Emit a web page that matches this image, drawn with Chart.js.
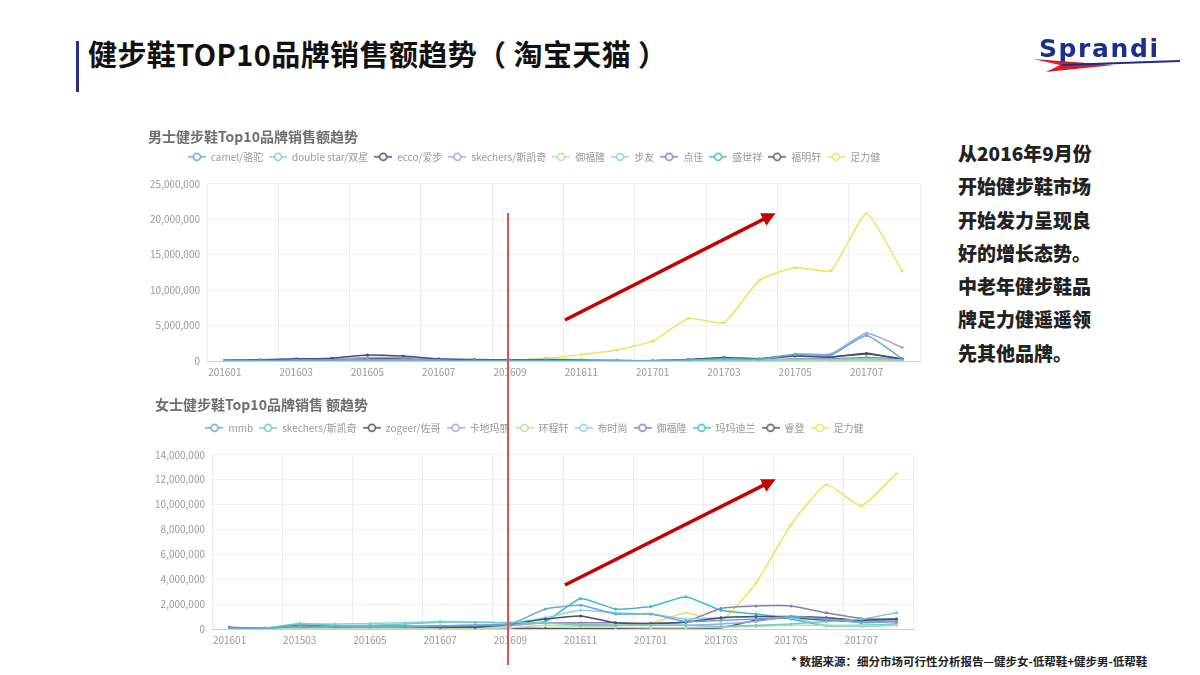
<!DOCTYPE html>
<html>
<head>
<meta charset="utf-8">
<script src="https://cdn.jsdelivr.net/npm/chart.js@4.4.1/dist/chart.umd.min.js"></script>
<style>
  body { margin: 0; background: #fff; }
  #page { position: relative; width: 1200px; height: 675px; overflow: hidden; font-family: "Noto Sans CJK SC", "Noto Sans", sans-serif; }
  .abs { position: absolute; }
  #bar { left: 76px; top: 41px; width: 3px; height: 51px; background: #2b2f86; }
  #title { left: 88px; top: 32px; font-size: 29px; font-weight: 700; color: #111; white-space: nowrap; letter-spacing: 0.4px; }
  #note { left: 958px; top: 136px; font-size: 19px; font-weight: 900; color: #222; line-height: 33.3px; }
  #src { left: 791px; top: 653px; font-size: 11.5px; font-weight: 700; color: #222; white-space: nowrap; }
  canvas { position: absolute; }
</style>
</head>
<body>
<div id="page">
  <div id="bar" class="abs"></div>
  <div id="title" class="abs">健步鞋TOP10品牌销售额趋势（ 淘宝天猫 ）</div>
  <canvas id="menChart" width="790" height="260" style="left:140px;top:124px"></canvas>
  <canvas id="womenChart" width="790" height="260" style="left:147px;top:392px"></canvas>
  <div id="note" class="abs">从2016年9月份<br>开始健步鞋市场<br>开始发力呈现良<br>好的增长态势。<br>中老年健步鞋品<br>牌足力健遥遥领<br>先其他品牌。</div>
  <div id="src" class="abs">* 数据来源：细分市场可行性分析报告—健步女-低帮鞋+健步男-低帮鞋</div>
  <svg class="abs" style="left:0;top:0" width="1200" height="675">
    <defs>
      <marker id="head" markerWidth="4" markerHeight="4" refX="2.2" refY="2" orient="auto" markerUnits="strokeWidth">
        <path d="M0,0 L4,2 L0,4 z" fill="#c40000"/>
      </marker>
    </defs>
    <!-- logo -->
    <text x="1039" y="57" font-family="DejaVu Sans" font-weight="bold" font-size="25" fill="#1d2f8c" letter-spacing="1.6">Sprandi</text>
    <polygon points="1033,59 1114,65 1046,72 1060,65" fill="#d4202a"/>
    <path d="M1062,65 L1180,61" stroke="#1d2f8c" stroke-width="2"/>
    <!-- marker line at 201609 -->
    <line x1="508" y1="213" x2="508" y2="665" stroke="#d9534f" stroke-width="2"/>
    <!-- trend arrows -->
    <line x1="565" y1="320" x2="770" y2="216" stroke="#c40000" stroke-width="3.5" marker-end="url(#head)"/>
    <line x1="565" y1="585" x2="770" y2="482" stroke="#c40000" stroke-width="3.5" marker-end="url(#head)"/>
  </svg>
</div>
<script>
// categories
const months = ['201601','201602','201603','201604','201605','201606','201607','201608','201609','201610',
                '201611','201612','201701','201702','201703','201704','201705','201706','201707','201708'];
const menTickLabels = months.slice();
const womenTickLabels = ['201601','201602','201503','201604','201605','201606','201607','201608','201609','201610',
                         '201611','201612','201701','201702','201703','201704','201705','201706','201707','201708'];

// men brands
const menBrands = ['camel/骆驼','double star/双星','ecco/爱步','skechers/斯凯奇','御福隆','步友','点佳','盛世祥','福明轩','足力健'];
const menColors = ['#6aa8dc','#7fd3c3','#4b4f6b','#a3a8dc','#b6dea0','#8bd3e3','#8b7fd0','#3fc0b8','#5a5a70','#e8e65a'];

const camelSales        = [50000, 60000, 100000, 120000, 150000, 150000, 100000, 60000, 50000, 50000, 50000, 50000, 50000, 150000, 300000, 250000, 900000, 800000, 3600000, 300000];
const doubleStarSales   = [20000, 20000, 30000, 30000, 50000, 50000, 30000, 20000, 20000, 30000, 30000, 20000, 20000, 50000, 100000, 100000, 200000, 200000, 300000, 150000];
const eccoSales         = [100000, 180000, 300000, 400000, 850000, 700000, 300000, 200000, 150000, 150000, 100000, 60000, 50000, 200000, 500000, 300000, 800000, 600000, 1000000, 300000];
const skechersMenSales  = [50000, 100000, 200000, 300000, 500000, 500000, 200000, 100000, 100000, 100000, 100000, 60000, 50000, 200000, 400000, 300000, 1000000, 1000000, 3900000, 1900000];
const yufulongMenSales  = [30000, 30000, 50000, 50000, 60000, 60000, 50000, 40000, 60000, 300000, 200000, 100000, 60000, 60000, 80000, 80000, 100000, 100000, 150000, 100000];
const buyouSales        = [20000, 20000, 30000, 30000, 40000, 40000, 30000, 30000, 30000, 40000, 50000, 40000, 40000, 50000, 100000, 100000, 150000, 150000, 200000, 100000];
const dianjiaSales      = [30000, 50000, 80000, 100000, 150000, 150000, 80000, 50000, 50000, 50000, 50000, 40000, 40000, 80000, 150000, 150000, 300000, 300000, 500000, 300000];
const shengshiSales     = [20000, 20000, 20000, 20000, 30000, 30000, 20000, 20000, 20000, 20000, 20000, 20000, 20000, 30000, 50000, 50000, 100000, 100000, 150000, 100000];
const fumingxuanSales   = [60000, 100000, 150000, 200000, 400000, 350000, 200000, 120000, 100000, 100000, 80000, 50000, 50000, 150000, 400000, 250000, 700000, 500000, 1100000, 250000];
const zulijianMenSales  = [80000, 80000, 90000, 90000, 100000, 100000, 90000, 90000, 100000, 380000, 900000, 1550000, 2800000, 6000000, 5400000, 11400000, 13200000, 12750000, 20850000, 12700000];
const menSeries = [camelSales, doubleStarSales, eccoSales, skechersMenSales, yufulongMenSales,
                   buyouSales, dianjiaSales, shengshiSales, fumingxuanSales, zulijianMenSales];
const menTicks = [0, 5000000, 10000000, 15000000, 20000000, 25000000];

// women brands
const womenBrands = ['mmb','skechers/斯凯奇','zogeer/佐哥','卡地玛丽','环程轩','布时尚','御福隆','玛玛迪兰','睿登','足力健'];
const womenColors = ['#6aa8dc','#6fd0c0','#4b4f6b','#a3a8dc','#b6dea0','#8bd3e3','#8a7fb0','#3cbcc8','#555566','#e8e65a'];

const mmbSales            = [100000, 50000, 250000, 200000, 200000, 200000, 250000, 300000, 400000, 1600000, 1900000, 1200000, 1200000, 600000, 700000, 800000, 1000000, 800000, 500000, 600000];
const skechersWomenSales  = [50000, 50000, 450000, 300000, 300000, 400000, 550000, 550000, 500000, 500000, 300000, 300000, 300000, 300000, 200000, 300000, 400000, 600000, 800000, 1300000];
const zogeerSales         = [150000, 50000, 300000, 200000, 250000, 200000, 150000, 150000, 400000, 800000, 1050000, 500000, 450000, 550000, 900000, 1000000, 1000000, 900000, 700000, 800000];
const kadimaliSales       = [50000, 50000, 200000, 150000, 150000, 150000, 150000, 150000, 300000, 500000, 400000, 300000, 300000, 300000, 400000, 600000, 1000000, 900000, 600000, 700000];
const huanchengSales      = [20000, 20000, 50000, 50000, 50000, 50000, 50000, 50000, 100000, 300000, 200000, 150000, 100000, 100000, 150000, 200000, 300000, 300000, 300000, 300000];
const bushishangSales     = [100000, 100000, 400000, 400000, 450000, 500000, 600000, 550000, 500000, 900000, 1500000, 1300000, 1200000, 800000, 900000, 1000000, 900000, 300000, 200000, 300000];
const yufulongWomenSales  = [50000, 50000, 200000, 200000, 200000, 200000, 200000, 200000, 300000, 500000, 500000, 500000, 450000, 600000, 1650000, 1850000, 1850000, 1300000, 850000, 800000];
const mamadilanSales      = [50000, 50000, 200000, 200000, 200000, 200000, 250000, 300000, 400000, 600000, 2450000, 1600000, 1800000, 2600000, 1500000, 1200000, 800000, 250000, 300000, 400000];
const ruidengSales        = [50000, 50000, 100000, 100000, 100000, 50000, 50000, 50000, 50000, 50000, 30000, 20000, 20000, 50000, 100000, 700000, 900000, 700000, 600000, 600000];
const zulijianWomenSales  = [20000, 20000, 20000, 20000, 20000, 20000, 20000, 20000, 20000, 30000, 50000, 300000, 450000, 1300000, 640000, 3700000, 8400000, 11600000, 9900000, 12500000];
const womenSeries = [mmbSales, skechersWomenSales, zogeerSales, kadimaliSales, huanchengSales,
                     bushishangSales, yufulongWomenSales, mamadilanSales, ruidengSales, zulijianWomenSales];
const womenTicks = [0, 2000000, 4000000, 6000000, 8000000, 10000000, 12000000, 14000000];

const FONT = '"Noto Sans CJK SC", "Noto Sans", sans-serif';

// small "-o-" legend icon like the original
function legendIcon(color) {
  const c = document.createElement('canvas');
  c.width = 18; c.height = 10;
  const g = c.getContext('2d');
  g.strokeStyle = color; g.lineWidth = 1.5;
  g.beginPath(); g.moveTo(0, 5); g.lineTo(18, 5); g.stroke();
  g.beginPath(); g.arc(9, 5, 3.5, 0, Math.PI * 2);
  g.fillStyle = '#fff'; g.fill(); g.stroke();
  return c;
}

function makeChart(id, cfg) {
  const icons = cfg.colors.map(legendIcon);
  const lastTick = cfg.ticks[cfg.ticks.length - 1];
  return new Chart(document.getElementById(id), {
    type: 'line',
    data: {
      labels: months,
      datasets: cfg.brands.map((b, i) => ({
        label: b,
        data: cfg.series[i],
        xAxisID: 'x',
        yAxisID: 'y',
        borderColor: cfg.colors[i],
        backgroundColor: cfg.colors[i],
        borderWidth: 1.5,
        pointRadius: 1.5,
        pointBorderWidth: 0,
        tension: 0.15
      }))
    },
    options: {
      responsive: false,
      animation: false,
      layout: { padding: { left: cfg.padLeft, right: cfg.padRight, top: 0, bottom: 0 } },
      plugins: {
        title: {
          display: true, text: cfg.title, align: 'start', color: '#6e6e6e',
          font: { family: FONT, size: 14, weight: 'bold' },
          padding: { top: 4, bottom: cfg.titleGap }
        },
        legend: {
          display: true,
          labels: {
            color: '#999', font: { family: FONT, size: 10 },
            usePointStyle: true, pointStyleWidth: 18, padding: 6,
            generateLabels: chart => {
              const items = Chart.defaults.plugins.legend.labels.generateLabels(chart);
              items.forEach((it, i) => { it.pointStyle = icons[i]; it.fontColor = '#999'; });
              return items;
            }
          }
        },
        tooltip: { enabled: false }
      },
      scales: {
        x: {
          offset: true,
          grid: {
            offset: true, drawTicks: false,
            color: c => (c.index === undefined || c.index % 2 === 0) ? '#ececec' : 'rgba(0,0,0,0)'
          },
          border: { display: true, color: '#cfcfcf' },
          ticks: {
            autoSkip: false, maxRotation: 0, padding: 5, color: '#999',
            font: { family: FONT, size: 10 },
            callback: (v, i) => i % 2 === 0 ? cfg.tickLabels[i] : ''
          },
          afterFit: s => { s.height = 23; }
        },
        y: {
          min: 0, max: lastTick,
          afterBuildTicks: s => { s.ticks = cfg.ticks.map(v => ({ value: v })); },
          grid: { drawTicks: false, color: c => c.tick && c.tick.value === 0 ? '#cfcfcf' : '#f0f0f0' },
          border: { display: false },
          ticks: {
            padding: cfg.yPad, color: '#999', font: { family: FONT, size: 10 },
            callback: v => v.toLocaleString('en-US')
          },
          afterFit: s => { s.width = cfg.yWidth; }
        },
        // empty top axis, only keeps the gap between legend and plot
        gap: {
          type: 'category', axis: 'x', position: 'top', display: true,
          grid: { display: false }, border: { display: false }, ticks: { display: false },
          afterFit: s => { s.height = 12; }
        }
      }
    }
  });
}

makeChart('menChart', {
  title: '男士健步鞋Top10品牌销售额趋势',
  brands: menBrands, colors: menColors, series: menSeries,
  ticks: menTicks, tickLabels: menTickLabels,
  padLeft: 8, padRight: 10, yWidth: 59, yPad: 7, titleGap: 1
});

makeChart('womenChart', {
  title: '女士健步鞋Top10品牌销售 额趋势',
  brands: womenBrands, colors: womenColors, series: womenSeries,
  ticks: womenTicks, tickLabels: womenTickLabels,
  padLeft: 8, padRight: 23, yWidth: 57, yPad: 7, titleGap: 4
});
</script>
</body>
</html>
